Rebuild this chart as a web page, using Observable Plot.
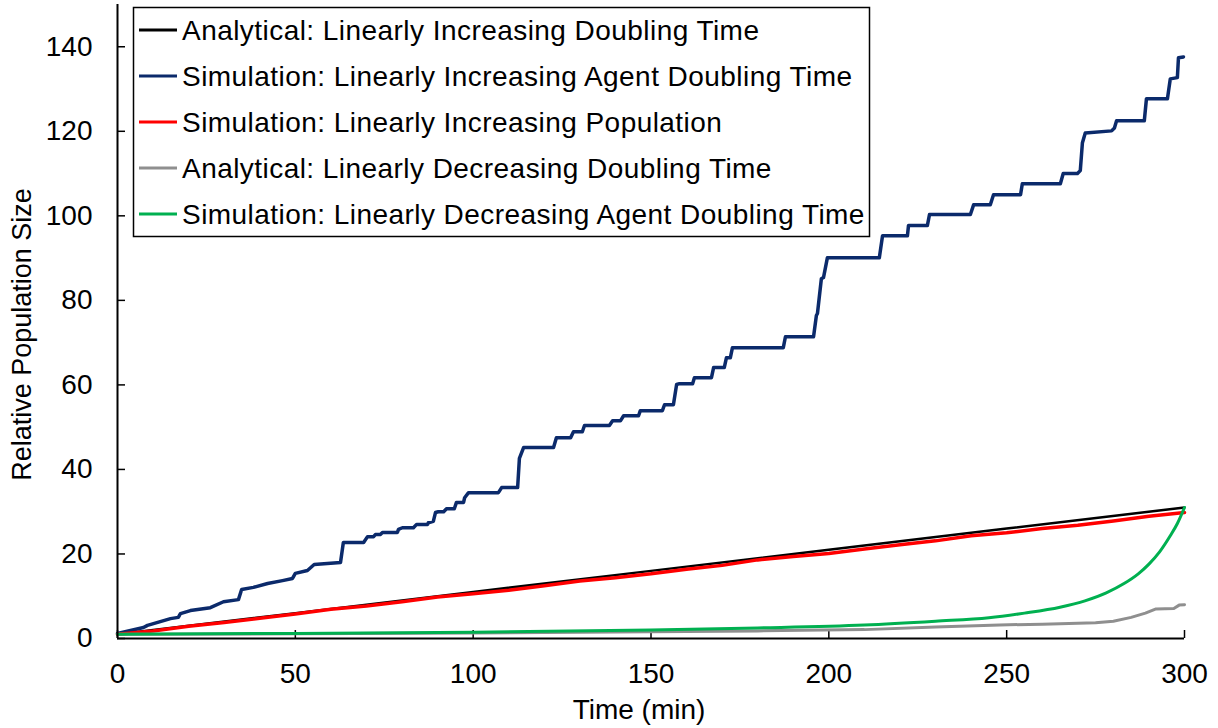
<!DOCTYPE html>
<html><head><meta charset="utf-8">
<script src="https://cdn.jsdelivr.net/npm/d3@7"></script>
<script src="https://cdn.jsdelivr.net/npm/@observablehq/plot@0.6"></script>
<style>
body{margin:0;background:#fff;}
svg{font-family:"Liberation Sans",Arial,sans-serif;}
</style>
</head><body><div id="chart"></div>
<script>
const seriesNames = [
  "Analytical: Linearly Increasing Doubling Time",
  "Simulation: Linearly Increasing Agent Doubling Time",
  "Simulation: Linearly Increasing Population",
  "Analytical: Linearly Decreasing Doubling Time",
  "Simulation: Linearly Decreasing Agent Doubling Time"
];
const seriesColors = ["#000000", "#0b2a6b", "#ff0000", "#8f8f8f", "#00b050"];
const seriesWidths = [2.5, 3.5, 3.5, 3, 3];

const xTicks = [0, 50, 100, 150, 200, 250, 300];
const yTicks = [0, 20, 40, 60, 80, 100, 120, 140];

const anaIncT = [0, 50, 100, 150, 200, 250, 300];
const anaIncY = [1, 6, 11, 16, 21, 26, 31];

const simAgentIncT = [0,7.31,8.43,14.9,17.1,17.7,20.5,26.1,29.8,34.0,34.9,38.2,42.2,46.4,49.2,50.0,53.4,55.3,62.7,63.5,69.2,70.3,72.0,72.5,73.9,74.5,78.7,79.0,80.1,83.2,84.1,87.2,87.4,88.8,89.4,90.2,91.7,92.5,94.7,95.3,97.3,97.6,98.7,107.1,108.0,112.5,113.0,114.2,122.6,123.4,127.4,128.2,130.7,131.3,138.3,139.2,141.4,142.3,146.5,147.0,153.2,153.8,156.3,157.2,158.0,161.7,162.2,167.0,167.6,170.6,171.2,172.3,172.9,187.2,187.8,195.7,196.5,196.8,197.9,198.5,199.6,214.2,215.1,222.1,222.4,227.7,228.3,239.8,240.7,245.4,246.3,253.9,254.4,265.1,265.9,269.9,270.7,271.3,272.1,279.5,280.3,280.9,288.7,289.3,295.2,296.0,298.0,298.3,299.7];
const simAgentIncY = [1.2,2.6,3.1,4.7,5.0,5.9,6.6,7.3,8.7,9.2,11.6,12.1,13.0,13.7,14.2,15.4,16.1,17.5,18.0,22.7,22.7,24.1,24.1,24.6,24.6,25.1,25.1,25.8,26.2,26.2,27.0,27.0,27.4,27.7,29.8,30.0,30.0,30.7,30.7,32.2,32.2,33.3,34.5,34.5,35.7,35.7,42.6,45.2,45.2,47.5,47.5,48.9,48.9,50.4,50.4,51.5,51.5,52.7,52.7,53.9,53.9,55.3,55.3,60.1,60.3,60.3,61.7,61.7,64.1,64.1,66.4,66.4,68.8,68.8,71.4,71.4,76.4,76.9,85.1,85.4,90.1,90.1,95.3,95.3,97.7,97.7,100.3,100.3,102.6,102.6,105.0,105.0,107.6,107.6,110.0,110.0,110.7,117.3,119.6,120.1,120.8,122.5,122.5,127.7,127.7,132.4,132.7,137.4,137.6];

const simPopIncT = [0,10,20,30,40,50,60,70,80,90,100,110,120,130,140,150,160,170,180,190,200,210,220,230,240,250,260,270,280,290,300];
const simPopIncY = [1.0,1.8,2.9,3.8,4.8,5.8,6.9,7.7,8.7,9.8,10.6,11.4,12.5,13.6,14.4,15.3,16.4,17.3,18.6,19.4,20.1,21.2,22.2,23.1,24.3,25.0,26.0,26.8,27.8,28.9,29.8];

const anaDecT = [0,50,100,150,180,210,230,248,260,275,280,285,289,292,297,298.5,300];
const anaDecY = [1.0,1.1,1.3,1.6,1.8,2.1,2.7,3.2,3.4,3.7,4.1,5.0,6.0,7.0,7.1,7.9,8.0];

const simAgentDecT = [0,50,100,150,180,210,230,245,255,265,272,278,283,287,290,293,296,298,300];
const simAgentDecY = [1.0,1.2,1.5,2.0,2.5,3.2,4.1,4.9,6.0,7.4,8.9,10.8,13.0,15.3,17.6,20.5,24.3,27.2,31.0];

const seriesT = [anaIncT, simAgentIncT, simPopIncT, anaDecT, simAgentDecT];
const seriesY = [anaIncY, simAgentIncY, simPopIncY, anaDecY, simAgentDecY];

const lineMarks = seriesNames.map((name, i) => {
  const rows = seriesT[i].map((t, j) => ({t, y: seriesY[i][j], series: name}));
  return Plot.line(rows, {
    x: "t", y: "y",
    stroke: seriesColors[i],
    strokeWidth: seriesWidths[i],
    curve: i === 4 ? "monotone-x" : "linear",
    strokeLinejoin: "round"
  });
});

const chart = Plot.plot({
  width: 1218, height: 728,
  marginLeft: 117, marginRight: 34, marginTop: 4, marginBottom: 90,
  style: {fontFamily: '"Liberation Sans", Arial, sans-serif', fontSize: "28px", color: "#000", background: "#fff", overflow: "visible"},
  x: {domain: [0, 300]},
  y: {domain: [0, 150]},
  marks: [
    Plot.axisX({ticks: xTicks, tickSize: -8, tickPadding: 33, tickFormat: d => String(d), label: null, fontSize: 28, strokeWidth: 1.5}),
    Plot.axisY({ticks: yTicks, tickSize: -8, tickPadding: 33, tickFormat: d => String(d), label: null, fontSize: 28, strokeWidth: 1.5}),
    ...lineMarks,
    Plot.ruleX([0], {stroke: "#000", strokeWidth: 2}),
    Plot.ruleY([0], {stroke: "#000", strokeWidth: 2}),
    Plot.text(["Time (min)"], {frameAnchor: "bottom", dx: -12, dy: 72, fontSize: 28, lineAnchor: "middle", textAnchor: "middle", fill: "#000"}),
    Plot.text(["Relative Population Size"], {frameAnchor: "left", dx: -95, dy: 13, rotate: -90, fontSize: 27, textAnchor: "middle", lineAnchor: "middle", fill: "#000"})
  ]
});

document.getElementById("chart").appendChild(chart);

// Legend (inside plot, top-left)
const svg = d3.select(chart);
const lg = svg.append("g").attr("class", "legend").attr("text-anchor", "start");
lg.append("rect")
  .attr("x", 133.5).attr("y", 7.5).attr("width", 736).attr("height", 229)
  .attr("fill", "#fff").attr("stroke", "#000").attr("stroke-width", 1.5);
seriesNames.forEach((name, i) => {
  const cy = 30 + i * 46;
  lg.append("line")
    .attr("x1", 139).attr("x2", 177).attr("y1", cy).attr("y2", cy)
    .attr("stroke", seriesColors[i]).attr("stroke-width", 3);
  lg.append("text")
    .attr("x", 182).attr("y", cy).attr("dy", "0.35em")
    .attr("text-anchor", "start")
    .attr("font-size", 28).attr("letter-spacing", "0.45px").attr("fill", "#000")
    .text(name);
});
</script>
</body></html>
